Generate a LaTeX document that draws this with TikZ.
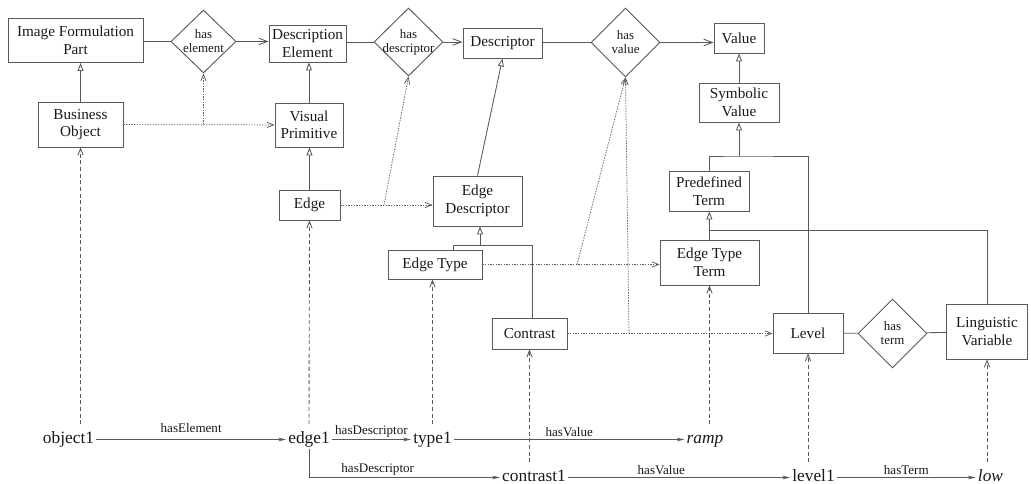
\documentclass[tikz,border=0pt]{standalone}
\usepackage{fontspec}
\setmainfont{Liberation Serif}
\usepackage{tikz}
\usetikzlibrary{shapes.geometric,arrows.meta,positioning,calc}

\tikzset{
  cls/.style={draw=black!65, line width=0.7pt, rectangle, align=center, inner sep=1pt, text=black!90, font=\fontsize{11.4}{13.2}\selectfont},
  rel/.style={draw=black!65, line width=0.7pt, diamond, inner sep=0pt, minimum width=51.75pt, minimum height=51.75pt},
  rellbl/.style={align=center, inner sep=0pt, text=black!90, font=\fontsize{9.7}{10.5}\selectfont},
  inst/.style={inner sep=1.5pt, text height=9pt, text depth=2.5pt, text=black!90, font=\fontsize{13}{15}\selectfont},
  lbl/.style={inner sep=1.5pt, text=black!90, font=\fontsize{9.8}{11}\selectfont},
  line/.style={draw=black!65, line width=0.65pt},
  gen/.style={line, -{Triangle[open,length=6pt,width=4.5pt]}},
  assoc/.style={line, -{Straight Barb[length=6.5pt,width=5pt]}},
  dotarr/.style={draw=black!65, line width=0.55pt, dash pattern=on 1pt off 1pt, -{Straight Barb[length=5pt,width=4pt]}},
  instarr/.style={draw=black!65, line width=0.65pt, dash pattern=on 3pt off 2pt, shorten <=4pt, -{Straight Barb[length=5pt,width=4pt]}},
  rowarr/.style={draw=black!65, line width=0.6pt, -{Stealth[length=6pt,width=2.8pt]}},
}

\begin{document}
\begin{tikzpicture}[x=0.75pt, y=-0.75pt]
    \useasboundingbox (0,0) rectangle (1031,484);

    \node[cls, minimum width=101.25pt, minimum height=33pt] (ifp) at (75.5,40.5) {Image Formulation\\Part};
    \node[rel, minimum width=48.75pt, minimum height=47.25pt, label={[rellbl]center:has\\element}] (hasel) at (203.5,41.5) {};
    \node[cls, minimum width=57.75pt, minimum height=27.75pt] (descel) at (307.5,43.5) {Description\\Element};
    \node[rel, minimum height=51pt, label={[rellbl]center:has\\descriptor}] (hasdesc) at (408.5,42) {};
    \node[cls, minimum width=59.25pt, minimum height=22.5pt] (descr) at (502.5,43) {Descriptor};
    \node[rel, label={[rellbl]center:has\\value}] (hasval) at (625.5,42.5) {};
    \node[cls, minimum width=37.5pt, minimum height=22.5pt] (value) at (739,38) {Value};
    \node[cls, minimum width=60pt, minimum height=29.25pt] (symval) at (739,102.5) {Symbolic\\Value};
    \node[cls, minimum width=63.75pt, minimum height=33.75pt] (bo) at (80.5,124.5) {Business\\Object};
    \node[cls, minimum width=51pt, minimum height=33pt] (vp) at (309,125) {Visual\\Primitive};
    \node[cls, minimum width=45.75pt, minimum height=22.5pt] (edge) at (309.5,205) {Edge};
    \node[cls, minimum width=66.75pt, minimum height=37.5pt] (edesc) at (477.5,201) {Edge\\Descriptor};
    \node[cls, minimum width=70.5pt, minimum height=21.75pt] (etype) at (435,264.5) {Edge Type};
    \node[cls, minimum width=56.25pt, minimum height=23.25pt] (contrast) at (529.5,333.5) {Contrast};
    \node[cls, minimum width=60pt, minimum height=30pt] (predef) at (709,191) {Predefined\\Term};
    \node[cls, minimum width=74.25pt, minimum height=33.75pt] (etterm) at (709.5,262.5) {Edge Type\\Term};
    \node[cls, minimum width=52.5pt, minimum height=30pt] (level) at (808,333) {Level};
    \node[rel, label={[rellbl]center:has\\term}] (hasterm) at (892.5,333.5) {};
    \node[cls, minimum width=60.75pt, minimum height=41.25pt] (ling) at (987,331.5) {Linguistic\\Variable};

    \node[inst] (object1) at (68.5,439.5) {object1};
    \node[inst] (edge1) at (309,439.5) {edge1};
    \node[inst] (type1) at (432.5,439.5) {type1};
    \node[inst] (ramp) at (705,439.5) {\itshape ramp};
    \node[inst] (contrast1) at (534,477.5) {contrast1};
    \node[inst] (level1) at (813.5,477.5) {level1};
    \node[inst] (low) at (990.5,477.5) {\itshape low};

    \draw[line] (hasel.west -| ifp.east) -- (hasel.west);
    \draw[assoc] (hasel.east) -- (hasel.east -| descel.west);
    \draw[line] (hasdesc.west -| descel.east) -- (hasdesc.west);
    \draw[assoc] (hasdesc.east) -- (hasdesc.east -| descr.west);
    \draw[line] (hasval.west -| descr.east) -- (hasval.west);
    \draw[assoc] (hasval.east) -- (hasval.east -| value.west);
    \draw[line] (level) -- (hasterm);
    \draw[line] (hasterm) -- (ling);

    \draw[gen] (bo) -- (bo |- ifp.south);
    \draw[gen] (vp) -- (vp |- descel.south);
    \draw[gen] (edge) -- (edge |- vp.south);
    \draw[gen] (edesc.north) -- (descr.south);
    \draw[gen] (symval) -- (value);

    \coordinate (tEd) at (480,245);
    \coordinate (tEt) at (453,245);
    \coordinate (tCo) at (532,245);
    \draw[line] (tEt |- etype.north) -- (tEt) -- (tCo) -- (tCo |- contrast.north);
    \draw[gen] (tEd) -- (tEd |- edesc.south);

    \coordinate (tSv) at (739,156);
    \draw[line] (predef) |- (tSv) -| (level);
    \draw[gen] (tSv) -- (symval);

    \coordinate (tPd) at (709.5,230);
    \draw[line] (etterm) |- (tPd) -| (ling);
    \draw[gen] (tPd) -- (predef);

    \coordinate (jBo) at (hasel.south |- bo.east);
    \draw[dotarr] (bo) -- (vp);
    \draw[dotarr] (jBo) -- (hasel.south);
    \coordinate (jEd) at (384,205);
    \draw[dotarr] (edge) -- (edge -| edesc.west);
    \draw[dotarr] (jEd) -- (hasdesc.south);
    \coordinate (jEt) at (577,264.5);
    \draw[dotarr] (etype) -- (etype -| etterm.west);
    \draw[dotarr] (jEt) -- (hasval.south);
    \coordinate (jCo) at (629,333.5);
    \draw[dotarr] (contrast) -- (contrast -| level.west);
    \draw[dotarr] (jCo) -- (hasval.south);

    \draw[instarr] (object1.north -| bo.south) -- (bo.south);
    \draw[instarr] (edge1.north) -- (edge.south);
    \draw[instarr] (type1.north) -- (type1.north |- etype.south);
    \draw[instarr] (ramp.north -| etterm.south) -- (etterm.south);
    \draw[instarr] (contrast1.north -| contrast.south) -- (contrast.south);
    \draw[instarr] (level1.north -| level.south) -- (level.south);
    \draw[instarr] (low.north -| ling.south) -- (ling.south);

    \draw[rowarr] (object1) -- node[lbl, above=3pt] {hasElement} (edge1);
    \draw[rowarr] (edge1) -- node[lbl, above] {hasDescriptor} (type1);
    \draw[rowarr] (type1) -- node[lbl, above] {hasValue} (ramp);
    \draw[rowarr] (edge1.south) |- node[lbl, above, pos=0.68] {hasDescriptor} (contrast1);
    \draw[rowarr] (contrast1) -- node[lbl, above, pos=0.42] {hasValue} (level1);
    \draw[rowarr] (level1) -- node[lbl, above] {hasTerm} (low);
\end{tikzpicture}
\end{document}
